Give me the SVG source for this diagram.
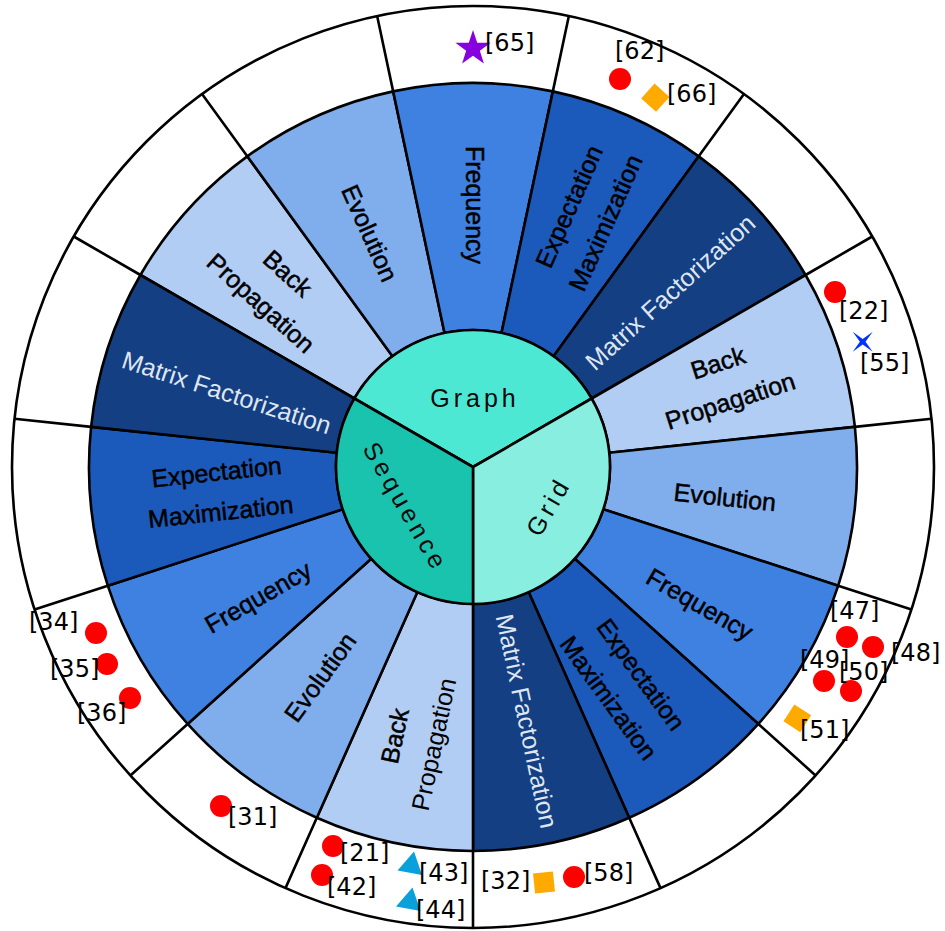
<svg xmlns="http://www.w3.org/2000/svg" width="945" height="931" viewBox="0 0 945 931">
<style>
.seg{stroke:#000;stroke-width:2.6;stroke-linejoin:round}
.bp{fill:#b2cdf3}.ev{fill:#80aeed}.fr{fill:#3f81e0}.em{fill:#1b5abb}.mf{fill:#143f82}
.lbl{font-family:"Liberation Sans",Arial,sans-serif;font-size:25px;text-anchor:middle;dominant-baseline:central}
.dk{fill:#000;stroke:#000;stroke-width:0.5}
.rg{fill:#000}
.lt{fill:#dfe6f1}
.ctr{font-family:"Liberation Sans",Arial,sans-serif;font-size:25px;letter-spacing:4px;text-anchor:middle;dominant-baseline:central;fill:#0a0a0a}
.ref{font-family:"DejaVu Sans",sans-serif;font-size:24px;fill:#000}
.dot{fill:#ff0000}
.sq{fill:#ffaa00}
.tri{fill:#0aa0dc}
.div{stroke:#000;stroke-width:2.6;fill:none}
</style>
<rect width="945" height="931" fill="#fff"/>
<g id="outer-ring">
<circle cx="473" cy="467" r="461" fill="#fff" stroke="#000" stroke-width="2.6"/>
</g>
<g id="connectors">
<path class="div" d="M552.84 91.39L568.85 16.07M698.71 156.34L743.97 94.04M805.56 275L872.24 236.5M854.9 426.86L931.47 418.81M838.21 585.66L911.44 609.46M758.37 723.95L815.59 775.47M629.19 817.8L660.51 888.15M473 851L473 928M316.81 817.8L285.49 888.15M187.63 723.95L130.41 775.47M107.79 585.66L34.56 609.46M91.1 426.86L14.53 418.81M140.44 275L73.76 236.5M247.29 156.34L202.03 94.04M393.16 91.39L377.15 16.07"/>
</g>
<g id="graph-back-propagation">
<path class="seg bp" d="M140.44 275A384 384 0 0 1 247.29 156.34L392.47 356.16A137 137 0 0 0 354.35 398.5Z"/>
<g transform="translate(274.5,288) rotate(42)"><text class="lbl dk" y="-20">Back</text><text class="lbl dk" y="20">Propagation</text></g>
</g>
<g id="graph-evolution">
<path class="seg ev" d="M247.29 156.34A384 384 0 0 1 393.16 91.39L444.52 332.99A137 137 0 0 0 392.47 356.16Z"/>
<text class="lbl dk" transform="translate(370,233) rotate(66)">Evolution</text>
</g>
<g id="graph-frequency">
<path class="seg fr" d="M393.16 91.39A384 384 0 0 1 552.84 91.39L501.48 332.99A137 137 0 0 0 444.52 332.99Z"/>
<text class="lbl dk" transform="translate(475,205) rotate(90)">Frequency</text>
</g>
<g id="graph-expectation-maximization">
<path class="seg em" d="M552.84 91.39A384 384 0 0 1 698.71 156.34L553.53 356.16A137 137 0 0 0 501.48 332.99Z"/>
<g transform="translate(587,214.5) rotate(-66)"><text class="lbl dk" y="-20">Expectation</text><text class="lbl dk" y="20">Maximization</text></g>
</g>
<g id="graph-matrix-factorization">
<path class="seg mf" d="M698.71 156.34A384 384 0 0 1 805.56 275L591.65 398.5A137 137 0 0 0 553.53 356.16Z"/>
<text class="lbl lt" transform="translate(670,292) rotate(-42)">Matrix Factorization</text>
</g>
<g id="grid-back-propagation">
<path class="seg bp" d="M805.56 275A384 384 0 0 1 854.9 426.86L609.25 452.68A137 137 0 0 0 591.65 398.5Z"/>
<g transform="translate(724,381.5) rotate(-18)"><text class="lbl dk" y="-20">Back</text><text class="lbl dk" y="20">Propagation</text></g>
</g>
<g id="grid-evolution">
<path class="seg ev" d="M854.9 426.86A384 384 0 0 1 838.21 585.66L603.3 509.34A137 137 0 0 0 609.25 452.68Z"/>
<text class="lbl dk" transform="translate(725,497) rotate(6)">Evolution</text>
</g>
<g id="grid-frequency">
<path class="seg fr" d="M838.21 585.66A384 384 0 0 1 758.37 723.95L574.81 558.67A137 137 0 0 0 603.3 509.34Z"/>
<text class="lbl dk" transform="translate(700,604) rotate(30)">Frequency</text>
</g>
<g id="grid-expectation-maximization">
<path class="seg em" d="M758.37 723.95A384 384 0 0 1 629.19 817.8L528.72 592.16A137 137 0 0 0 574.81 558.67Z"/>
<g transform="translate(625,686) rotate(54)"><text class="lbl dk" y="-20">Expectation</text><text class="lbl dk" y="20">Maximization</text></g>
</g>
<g id="grid-matrix-factorization">
<path class="seg mf" d="M629.19 817.8A384 384 0 0 1 473 851L473 604A137 137 0 0 0 528.72 592.16Z"/>
<text class="lbl lt" transform="translate(527,721) rotate(78)">Matrix Factorization</text>
</g>
<g id="sequence-back-propagation">
<path class="seg bp" d="M473 851A384 384 0 0 1 316.81 817.8L417.28 592.16A137 137 0 0 0 473 604Z"/>
<g transform="translate(414,740) rotate(-78)"><text class="lbl dk" y="-20">Back</text><text class="lbl rg" y="20">Propagation</text></g>
</g>
<g id="sequence-evolution">
<path class="seg ev" d="M316.81 817.8A384 384 0 0 1 187.63 723.95L371.19 558.67A137 137 0 0 0 417.28 592.16Z"/>
<text class="lbl dk" transform="translate(320,677) rotate(-54)">Evolution</text>
</g>
<g id="sequence-frequency">
<path class="seg fr" d="M187.63 723.95A384 384 0 0 1 107.79 585.66L342.7 509.34A137 137 0 0 0 371.19 558.67Z"/>
<text class="lbl dk" transform="translate(258,597) rotate(-30)">Frequency</text>
</g>
<g id="sequence-expectation-maximization">
<path class="seg em" d="M107.79 585.66A384 384 0 0 1 91.1 426.86L336.75 452.68A137 137 0 0 0 342.7 509.34Z"/>
<g transform="translate(218.5,491.5) rotate(-6)"><text class="lbl dk" y="-20">Expectation</text><text class="lbl dk" y="20">Maximization</text></g>
</g>
<g id="sequence-matrix-factorization">
<path class="seg mf" d="M91.1 426.86A384 384 0 0 1 140.44 275L354.35 398.5A137 137 0 0 0 336.75 452.68Z"/>
<text class="lbl lt" transform="translate(226.7,392.3) rotate(18)">Matrix Factorization</text>
</g>
<g id="graph">
<path class="seg" fill="#4de8d4" d="M473 467L354.35 398.5A137 137 0 0 1 591.65 398.5Z"/>
<text class="ctr" x="475" y="398">Graph</text>
</g>
<g id="grid">
<path class="seg" fill="#88eedf" d="M473 467L591.65 398.5A137 137 0 0 1 473 604Z"/>
<text class="ctr" transform="translate(547,508) rotate(-60)" x="2">Grid</text>
</g>
<g id="sequence">
<path class="seg" fill="#1ac3ae" d="M473 467L473 604A137 137 0 0 1 354.35 398.5Z"/>
<text class="ctr" transform="translate(405,505) rotate(60)" x="2">Sequence</text>
</g>
<g id="markers">
<polygon fill="#8800dd" transform="translate(473,48.5)" points="0,-18.5 4.23,-5.82 17.59,-5.72 6.85,2.22 10.87,14.97 0,7.2 -10.87,14.97 -6.85,2.22 -17.59,-5.72 -4.23,-5.82"/>
<polygon fill="#0033ff" transform="translate(862.7,341.7)" points="10,-10 2.8,0 10,10 0,2.8 -10,10 -2.8,0 -10,-10 0,-2.8"/>
<circle class="dot" cx="620" cy="79" r="11"/>
<circle class="dot" cx="835" cy="292" r="11"/>
<circle class="dot" cx="847" cy="637" r="11"/>
<circle class="dot" cx="873" cy="647" r="11"/>
<circle class="dot" cx="824" cy="681" r="11"/>
<circle class="dot" cx="851" cy="691" r="11"/>
<circle class="dot" cx="333" cy="846" r="11"/>
<circle class="dot" cx="322" cy="875" r="11"/>
<circle class="dot" cx="574" cy="877" r="11"/>
<circle class="dot" cx="96" cy="633" r="11"/>
<circle class="dot" cx="107" cy="664" r="11"/>
<circle class="dot" cx="130" cy="698" r="11"/>
<circle class="dot" cx="221" cy="806" r="11"/>
<rect class="sq" x="-10" y="-10" width="20" height="20" transform="translate(655.3,97.7) rotate(42)"/>
<rect class="sq" x="-10" y="-10" width="20" height="20" transform="translate(797.3,718.3) rotate(33)"/>
<rect class="sq" x="-10" y="-10" width="20" height="20" transform="translate(544,882.5) rotate(-6)"/>
<polygon class="tri" points="414,851.5 397.5,870.5 422,875"/>
<polygon class="tri" points="412.5,887.5 396,906.5 420.5,911"/>
</g>
<g id="references">
<text class="ref" x="485" y="51">[65]</text>
<text class="ref" x="615" y="59">[62]</text>
<text class="ref" x="667" y="102">[66]</text>
<text class="ref" x="839" y="319">[22]</text>
<text class="ref" x="860" y="371">[55]</text>
<text class="ref" x="830" y="619">[47]</text>
<text class="ref" x="891" y="661">[48]</text>
<text class="ref" x="800" y="668">[49]</text>
<text class="ref" x="839" y="680">[50]</text>
<text class="ref" x="800" y="738">[51]</text>
<text class="ref" x="340" y="861">[21]</text>
<text class="ref" x="327" y="895">[42]</text>
<text class="ref" x="419" y="881">[43]</text>
<text class="ref" x="416" y="918">[44]</text>
<text class="ref" x="481" y="889">[32]</text>
<text class="ref" x="584" y="881">[58]</text>
<text class="ref" x="29" y="630">[34]</text>
<text class="ref" x="50" y="677">[35]</text>
<text class="ref" x="77" y="721">[36]</text>
<text class="ref" x="228" y="825">[31]</text>
</g>
</svg>
